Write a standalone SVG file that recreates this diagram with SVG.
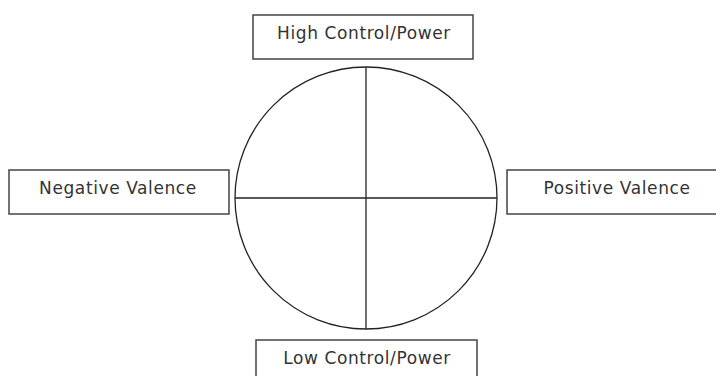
<svg xmlns="http://www.w3.org/2000/svg" width="716" height="376" viewBox="0 0 716 376">
<style>
.box{fill:#fff;stroke:#444;stroke-width:1.5}
.lbl{font-family:"DejaVu Sans",Verdana,sans-serif;font-size:17px;letter-spacing:0.6px;fill:#333;text-anchor:middle}
.ln{fill:none;stroke:#222;stroke-width:1.3}
</style>
<rect width="716" height="376" fill="#fff"/>
<g id="connectors">
<circle class="ln" cx="366" cy="198" r="131"/>
<line class="ln" x1="366" y1="67" x2="366" y2="329"/>
<line class="ln" x1="235" y1="198" x2="497" y2="198"/>
</g>
<g id="high">
<rect class="box" x="253" y="15" width="220" height="44"/>
<text class="lbl" x="364" y="39">High Control/Power</text>
</g>
<g id="negative">
<rect class="box" x="9" y="170" width="220" height="44"/>
<text class="lbl" x="118" y="194">Negative Valence</text>
</g>
<g id="positive">
<rect class="box" x="507" y="170" width="215" height="44"/>
<text class="lbl" x="617" y="194">Positive Valence</text>
</g>
<g id="low">
<rect class="box" x="256" y="340" width="221" height="44"/>
<text class="lbl" x="367" y="364">Low Control/Power</text>
</g>
</svg>
